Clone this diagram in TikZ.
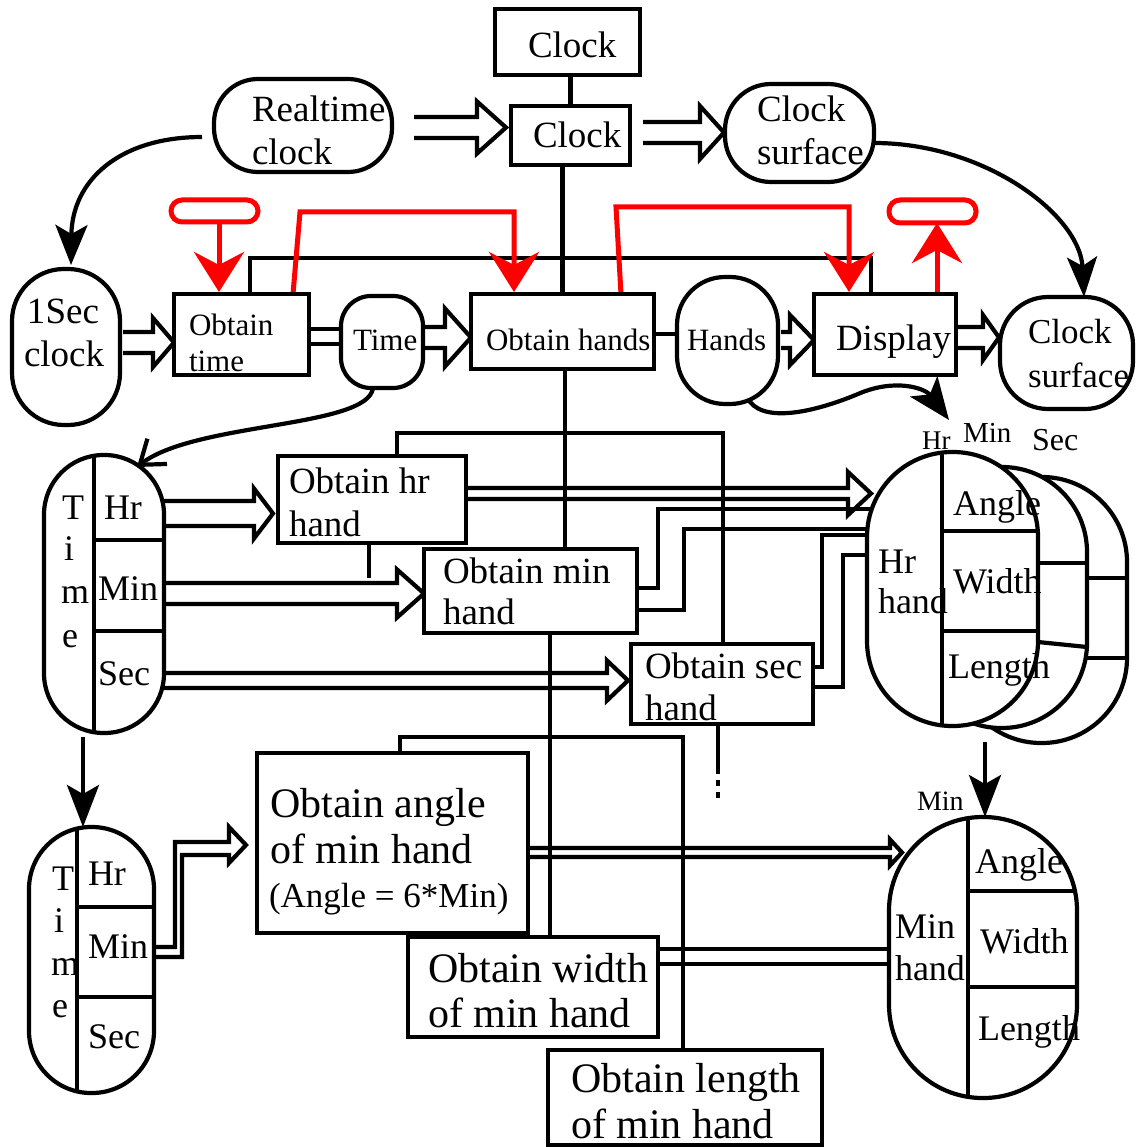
\documentclass[tikz,border=0pt]{standalone}
\usepackage{fontspec}
\setmainfont{Liberation Serif}
\usetikzlibrary{arrows.meta,calc,fit}
\pgfdeclarelayer{bg}
\pgfsetlayers{bg,main}
\newcommand\harrow[8]{%
  \draw[ln] let \p1=(#1), \p2=(#3), \n1={\x1+(#2pt)}, \n2={\x2-(#4pt)-(#8pt)}, \n3={\x2-(#4pt)} in
    ({\n1},{-#5pt+#6pt}) -- ({\n2},{-#5pt+#6pt}) -- ({\n2},{-#5pt+#7pt})
    -- ({\n3},{-#5pt}) -- ({\n2},{-#5pt-#7pt}) -- ({\n2},{-#5pt-#6pt})
    -- ({\n1},{-#5pt-#6pt});}
\begin{document}
\begin{tikzpicture}[x=1pt,y=-1pt,
  ln/.style={line width=4.2pt, line join=miter, miter limit=10},
  shp/.style={draw, line width=4.2pt, fill=white, inner sep=0pt, outer sep=0pt},
  box/.style={shp},
  pill/.style={shp, rounded corners=#1pt},
  rov/.style={draw=red, line width=5pt, inner sep=0pt, outer sep=0pt, rounded corners=11pt},
  redln/.style={draw=red, line width=5pt, line join=miter},
  lbl/.style={anchor=base west, inner sep=0pt, outer sep=0pt, font=\fontsize{#1}{#1}\selectfont},
  redtip/.style={-{Stealth[length=40pt,width=50pt,inset=13pt]}},
  blktip/.style={-{Stealth[length=42pt,width=32pt,inset=9pt]}}
]
\useasboundingbox (0,0) rectangle (1136,1147);

% ---------- back pills of the hand stack ----------
\node[pill=85, fit={(956,477) (1127,743)}] (hrC) {};
\draw[ln] (1087,578) -- (1127,578);
\draw[ln] (1087,658) -- (1127,658);
\node[pill=85, fit={(916,467) (1087,728)}] (hrB) {};
\draw[ln] (1038,563) -- (1087,563);
\draw[ln] (1038,642) -- (1087,647);
\node[pill=85, fit={(867,452) (1038,726)}] (hrA) {};
\draw[ln] (942,453) -- (942,725);
\draw[ln] (942,531) -- (1038,531);
\draw[ln] (942,631) -- (1038,631);

% ---------- shapes ----------
\node[box, fit={(495,9) (640,75)}] (ck1) {};
\node[box, fit={(511,106) (630,165)}] (ck2) {};
\node[pill=44, fit={(214,79) (392,172)}] (rt) {};
\node[pill=46, fit={(725,84) (874,182)}] (cs1) {};
\node[pill=52, fit={(12,269) (120,425)}] (sec1) {};
\node[box, fit={(174,294) (309,375)}] (ot) {};
\node[pill=30, fit={(341,296) (423,388)}] (tm) {};
\node[box, fit={(471,294) (654,369)}] (oh) {};
\node[pill=48, fit={(677,277) (778,404)}] (hd) {};
\node[box, fit={(814,294) (956,375)}] (dsp) {};
\node[pill=48, fit={(1000,297) (1133,409)}] (cs2) {};
\node[pill=59.5, fit={(44,455) (164,733)}] (t1) {};
\draw[ln] (94,456) -- (94,732);
\draw[ln] (94,540) -- (164,540);
\draw[ln] (94,631) -- (164,631);
\node[box, fit={(278,456) (466,543)}] (ohr) {};
\node[box, fit={(424,549) (637,633)}] (omh) {};
\node[box, fit={(631,644) (813,724)}] (osh) {};
\node[pill=62, fit={(29,827) (154,1093)}] (t2) {};
\draw[ln] (77,829) -- (77,1091);
\draw[ln] (77,907) -- (154,907);
\draw[ln] (77,997) -- (154,997);
\node[box, fit={(257,753) (528,933)}] (ang) {};
\node[box, fit={(408,937) (658,1037)}] (owd) {};
\node[box, fit={(548,1050) (822,1145)}] (oln) {};
\node[pill=93.5, fit={(889,817) (1077,1098)}] (mh) {};
\draw[ln] (968,818) -- (968,1097);
\draw[ln] (968,891) -- (1075,891);
\draw[ln] (968,987) -- (1077,987);
\node[rov, fit={(171,200) (258,222)}] (ov1) {};
\node[rov, fit={(889,200) (976,223)}] (ov2) {};
\coordinate (hrtip) at (949,420);

% ---------- texts ----------
\node[lbl=37] (tck1) at (528,58) {Clock};
\node[lbl=37] (tck2) at (533,148) {Clock};
\node[lbl=37] (trt1) at (252,122) {Realtime};
\node[lbl=37] (trt2) at (252,165) {clock};
\node[lbl=37] (tcs1) at (757,122) {Clock};
\node[lbl=37] (tcs2) at (757,165) {surface};
\node[lbl=37] (tsc1) at (27,323) {1Sec};
\node[lbl=37] (tsc2) at (24,366) {clock};
\node[lbl=31] (tot1) at (189,335) {Obtain};
\node[lbl=31] (tot2) at (189,371) {time};
\node[lbl=31] (ttm) at (353,350) {Time};
\node[lbl=31] (toh) at (486,350) {Obtain hands};
\node[lbl=31] (thd) at (687,350) {Hands};
\node[lbl=37] (tdsp) at (836,350) {Display};
\node[lbl=35] (tcs3) at (1028,343) {Clock};
\node[lbl=35] (tcs4) at (1028,387) {surface};
\node[lbl=36] (ta1) at (62,519) {T};
\node[lbl=36] (ta2) at (64,560) {i};
\node[lbl=36] (ta3) at (61,603) {m};
\node[lbl=36] (ta4) at (62,647) {e};
\node[lbl=36] (ta5) at (104,519) {Hr};
\node[lbl=36] (ta6) at (98,600) {Min};
\node[lbl=36] (ta7) at (98,685) {Sec};
\node[lbl=37] (thr1) at (289,493) {Obtain hr};
\node[lbl=37] (thr2) at (289,536) {hand};
\node[lbl=37] (tmn1) at (443,583) {Obtain min};
\node[lbl=37] (tmn2) at (443,624) {hand};
\node[lbl=37] (tse1) at (645,678) {Obtain sec};
\node[lbl=37] (tse2) at (645,720) {hand};
\node[lbl=27] (thA) at (922,449) {Hr};
\node[lbl=29] (thB) at (963,442) {Min};
\node[lbl=32] (thC) at (1032,450) {Sec};
\node[lbl=36] (th1) at (878,573) {Hr};
\node[lbl=36] (th2) at (878,613) {hand};
\node[lbl=36] (th3) at (953,515) {Angle};
\node[lbl=36] (th4) at (953,593) {Width};
\node[lbl=36] (th5) at (948,678) {Length};
\node[lbl=36] (tb1) at (52,890) {T};
\node[lbl=36] (tb2) at (54,932) {i};
\node[lbl=36] (tb3) at (51,975) {m};
\node[lbl=36] (tb4) at (52,1017) {e};
\node[lbl=36] (tb5) at (88,885) {Hr};
\node[lbl=36] (tb6) at (88,958) {Min};
\node[lbl=36] (tb7) at (88,1048) {Sec};
\node[lbl=42] (tan1) at (270,817) {Obtain angle};
\node[lbl=42] (tan2) at (270,863) {of min hand};
\node[lbl=35] (tan3) at (269,907) {(Angle = 6*Min)};
\node[lbl=42] (twd1) at (428,982) {Obtain width};
\node[lbl=42] (twd2) at (428,1027) {of min hand};
\node[lbl=42] (tln1) at (571,1092) {Obtain length};
\node[lbl=42] (tln2) at (571,1138) {of min hand};
\node[lbl=28] (tmA) at (917,810) {Min};
\node[lbl=36] (tm1) at (895,938) {Min};
\node[lbl=36] (tm2) at (895,980) {hand};
\node[lbl=36] (tm3) at (975,873) {Angle};
\node[lbl=36] (tm4) at (980,953) {Width};
\node[lbl=36] (tm5) at (978,1040) {Length};

% ---------- connectors ----------
\begin{pgfonlayer}{bg}
\draw[ln] (ck2.north |- ck1.south) -- (ck2.north);
\draw[ln] (oh.north |- ck2.south) -- (oh.north);
\coordinate (c0) at ($(oh.south)+(2.5,0)$);
\draw[ln] (c0) -- (c0 |- omh.north);
\coordinate (c1) at ($(omh.south)+(19.5,0)$);
\draw[ln] (c1) -- (c1 |- owd.north);
\draw[ln] ($(ot.north)+(8.5,0)$) |- ($(dsp.north)+(-14,-36)$) -- ($(dsp.north)+(-14,0)$);
\coordinate (c2) at ($(ohr.north)+(25,0)$);
\coordinate (c2b) at ($(osh.north)+(1,0)$);
\draw[ln] (c2) -- ++(0,-23) -| (c2b);
\draw[ln] ($(ohr.south)+(-3,0)$) -- ++(0,35);
\coordinate (c3) at ($(ang.north)+(7.5,0)$);
\coordinate (c3b) at ($(oln.north)+(-2,0)$);
\draw[ln] (c3) -- ++(0,-16) -| (c3b);
\draw[ln] ($(osh.south)+(-4,0)$) -- ++(0,44) coordinate (c4);
\draw[ln, dash pattern=on 6pt off 6pt] (c4) -- ++(0,36);

\harrow{rt.east}{22}{ck2.west}{5}{127.5}{10.5}{26}{29}
\harrow{ck2.east}{13}{cs1.west}{1}{132.5}{10.5}{26.5}{24}
\harrow{sec1.east}{3}{ot.west}{0}{342.5}{10.5}{24.5}{21}
\harrow{tm.east}{2}{oh.west}{0}{337.5}{10.5}{29}{26}
\harrow{hd.east}{3}{dsp.west}{0}{340}{8}{25}{24}
\harrow{dsp.east}{1}{cs2.west}{1}{337.5}{10.5}{22.5}{16}
\harrow{t1.east}{-3}{ohr.west}{5}{513.5}{12.5}{25}{19}
\harrow{t1.east}{0}{omh.west}{0}{593.5}{10.5}{24}{27}
\harrow{t1.east}{-3}{osh.west}{3}{680.5}{7.5}{20}{21}
\harrow{ohr.east}{0}{hrA.west}{-4}{493.5}{5.5}{21.5}{23}
\harrow{ang.east}{0}{mh.west}{-13}{852.5}{4.5}{13}{12}
\draw[ln] ($(t2.east)+(0,-13)$) -| (175,842) -- (229,842) -- (229,827)
  -- ($(ang.west)+(-11,2)$) -- (229,863) -- (229,855) -- (182,855) |- ($(t2.east)+(0,-3)$);

\draw[ln] ($(ot.east)+(0,-5.5)$) -- ($(tm.west)+(0,-13)$);
\draw[ln] ($(ot.east)+(0,9.5)$) -- ($(tm.west)+(0,2)$);
\draw[ln] ($(oh.east)+(0,2.5)$) -- ($(hd.west)+(0,-6.5)$);
\draw[ln] ($(omh.east)+(0,-3)$) -- (658,588) -- (658,509) -- (880,509);
\draw[ln] ($(omh.east)+(0,19)$) -- (684,610) -- (684,529) -- (880,529);
\draw[ln] ($(osh.east)+(0,-17)$) -- (822,667) -- (822,535) -- (880,535);
\draw[ln] ($(osh.east)+(0,3)$) -- (843,687) -- (843,555) -- (880,555);
\draw[ln] ($(owd.east)+(0,-38)$) -- (895,949);
\draw[ln] ($(owd.east)+(0,-23)$) -- (895,964);

\draw[ln, -{Stealth[length=40pt,width=32pt,inset=9pt]}] ($(rt.west)+(-12,11.5)$)
  .. controls (120,137) and (72,180) .. ($(sec1.north)+(5,-4)$);
\draw[ln, -{Stealth[length=40pt,width=30pt,inset=9pt]}] ($(cs1.east)+(0,10)$)
  .. controls (985,143) and (1080,215) .. ($(cs2.north)+(17.5,0)$);
\draw[ln, -{Straight Barb[length=22pt,width=32pt]}] ($(tm.south)+(-9,0)$)
  .. controls (368,428) and (195,422) .. ($(t1.north east)+(-27,12)$);
\draw[ln, -{Stealth[length=42pt,width=34pt,inset=10pt]}] ($(hd.south)+(19.5,-7)$)
  .. controls (760,425) and (815,412) .. (858,394)
  .. controls (895,378) and (925,388) .. (hrtip);
\draw[ln, blktip] ($(t1.south)+(-21,4)$) -- ($(t2.north)+(-8.5,0)$);
\draw[ln, blktip] ($(mh.north)+(2,-75)$) -- ($(mh.north)+(2,0)$);

\draw[redln, redtip] ($(ov1.south)+(4.5,0)$) -- ($(ot.north)+(-22.5,-2)$);
\draw[redln, redtip] ($(ot.north)+(51.5,0)$) -- (300,212) -- (514,212) -- ($(oh.north)+(-48.5,-2)$);
\draw[redln, redtip] ($(oh.north)+(58.5,0)$) -- (616,207) -- (849,207) -- ($(dsp.north)+(-36,-2)$);
\draw[redln, redtip] ($(dsp.north)+(52,0)$) -- ($(ov2.south)+(4.5,0)$);
\end{pgfonlayer}
\end{tikzpicture}
\end{document}
